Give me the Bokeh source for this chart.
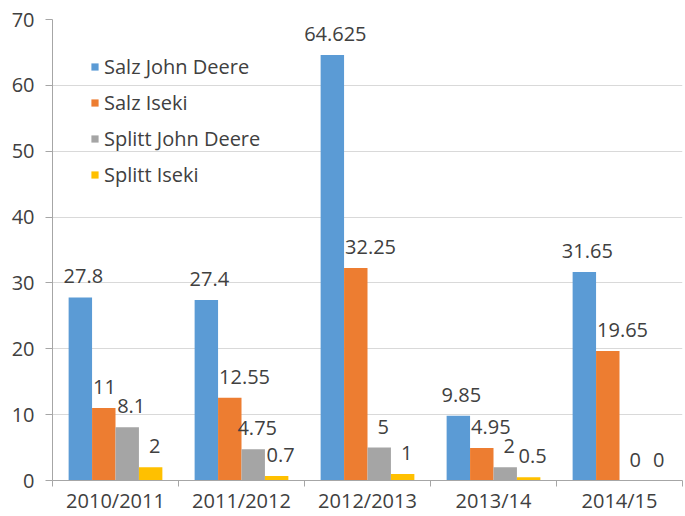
from bokeh.plotting import figure
from bokeh.models import (Range1d, Legend, LegendItem, LinearAxis,
                          FixedTicker, ColumnDataSource, LabelSet)
from bokeh.core.properties import value
from bokeh.transform import dodge
from bokeh.embed import file_html
from bokeh.resources import INLINE

categories = ["2010/2011", "2011/2012", "2012/2013", "2013/14", "2014/15"]
salz_john_deere = [27.8, 27.4, 64.625, 9.85, 31.65]
salz_iseki = [11, 12.55, 32.25, 4.95, 19.65]
splitt_john_deere = [8.1, 4.75, 5, 2, 0]
splitt_iseki = [2, 0.7, 1, 0.5, 0]
series_names = ["Salz John Deere", "Salz Iseki", "Splitt John Deere", "Splitt Iseki"]
y_ticks = [0, 10, 20, 30, 40, 50, 60, 70]

colors = ["#5B9BD5", "#ED7D31", "#A5A5A5", "#FFC000"]
series = [salz_john_deere, salz_iseki, splitt_john_deere, splitt_iseki]
keys = ["s0", "s1", "s2", "s3"]

n = len(categories)
centers = [i + 0.5 for i in range(n)]
data = {"cat": categories, "xc": centers}
for k, vals in zip(keys, series):
    data[k] = vals
    data[k + "_lab"] = [f"{v:g}" for v in vals]
src = ColumnDataSource(data)

FONT = "Open Sans"
TXT = "#404040"
AX = "#a6a6a6"

p = figure(x_range=Range1d(0, n), y_range=Range1d(0, 70),
           width=685, height=516, output_backend="svg", toolbar_location=None,
           x_axis_location=None,
           min_border_left=52, min_border_right=3, min_border_top=19, min_border_bottom=35)
p.outline_line_color = None
p.background_fill_color = "white"
p.border_fill_color = "white"
p.xgrid.grid_line_color = None
p.xgrid.visible = False

# y axis
yax = p.yaxis[0]
yax.ticker = FixedTicker(ticks=y_ticks)
yax.axis_line_color = AX
yax.major_tick_line_color = AX
yax.major_tick_out = 7
yax.major_tick_in = 0
yax.minor_tick_line_color = None
yax.major_label_standoff = 11
yax.major_label_text_font = FONT
yax.major_label_text_font_size = "20px"
yax.major_label_text_color = TXT
p.ygrid.grid_line_color = "#d9d9d9"
p.ygrid.ticker = FixedTicker(ticks=y_ticks)

# x axis: labels at category centres, short marks at category boundaries
cat_axis = LinearAxis(ticker=FixedTicker(ticks=centers, minor_ticks=list(range(n + 1))),
                      major_label_overrides={c: lab for c, lab in zip(centers, categories)},
                      major_tick_line_color=None, major_tick_out=0, major_tick_in=0,
                      minor_tick_line_color=AX, minor_tick_out=6, minor_tick_in=0,
                      axis_line_color=AX,
                      major_label_standoff=0,
                      major_label_text_font=FONT,
                      major_label_text_font_size="20px",
                      major_label_text_color=TXT)
p.add_layout(cat_axis, "below")

offsets = [-0.279, -0.093, 0.093, 0.279]
bw = 0.186
renderers = []
for k, off, c in zip(keys, offsets, colors):
    r = p.vbar(x=dodge("xc", off), top=k, width=bw,
               source=src, fill_color=c, line_color=None)
    renderers.append(r)

# data labels
label_cfg = [
    (offsets[0], "center", 3),
    (offsets[1] - bw / 2, "left", 1),
    (offsets[2], "center", 4),
    (offsets[3], "center", 4),
]
for k, (off, align, xo) in zip(keys, label_cfg):
    ls = LabelSet(x=dodge("xc", off), y=k, text=k + "_lab",
                  source=src, text_align=align, text_baseline="alphabetic",
                  x_offset=xo, y_offset=14,
                  text_font=value(FONT), text_font_size=value("20px"),
                  text_color=value(TXT))
    p.add_layout(ls)

legend = Legend(items=[LegendItem(label=s, renderers=[r]) for s, r in zip(series_names, renderers)],
                location=(38, 292), orientation="vertical",
                glyph_width=9, glyph_height=9, label_standoff=5,
                label_height=22, spacing=9, padding=0, margin=0,
                border_line_color=None, background_fill_alpha=0,
                label_text_font=FONT, label_text_font_size="20px", label_text_color=TXT)
p.add_layout(legend)

open("out.html", "w").write(file_html(p, INLINE))
